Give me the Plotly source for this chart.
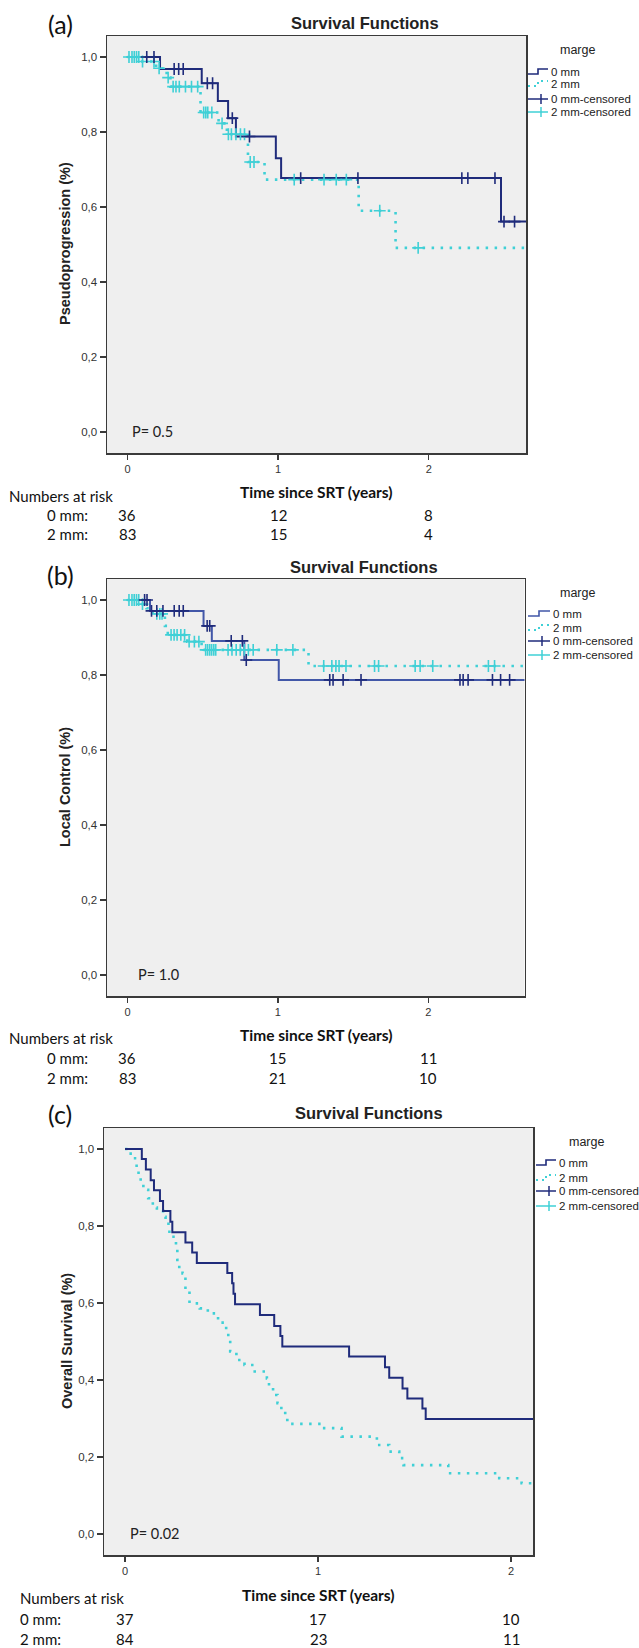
import numpy as np
import plotly.graph_objects as go

W, H = 639, 1648

# ---------------- data ----------------
# Panel (a) Pseudoprogression
a0_t = [0, 0.216, 0.493, 0.60, 0.668, 0.72, 0.985, 1.02, 2.48, 2.70]
a0_s = [1.0, 0.968, 0.930, 0.883, 0.837, 0.788, 0.730, 0.677, 0.561, 0.561]
a0_cens = [0.128, 0.176, 0.31, 0.34, 0.37, 0.53, 0.565, 0.696, 0.81, 1.15, 1.53, 2.22, 2.26, 2.44, 2.50, 2.57]
a2_t = [0, 0.087, 0.19, 0.26, 0.285, 0.485, 0.605, 0.66, 0.80, 0.91, 1.535, 1.78, 2.70]
a2_s = [1.0, 0.988, 0.970, 0.945, 0.921, 0.852, 0.823, 0.794, 0.720, 0.673, 0.590, 0.491, 0.491]
a2_cens = [0.01, 0.03, 0.045, 0.06, 0.075, 0.10, 0.176, 0.21, 0.27, 0.303, 0.322, 0.344, 0.385, 0.425,
           0.466, 0.506, 0.52, 0.533, 0.56, 0.628, 0.67, 0.69, 0.72, 0.75, 0.777, 0.815, 0.84,
           1.107, 1.305, 1.386, 1.453, 1.675, 1.93]

# Panel (b) Local control
b0_t = [0, 0.15, 0.506, 0.561, 0.777, 1.006, 2.70]
b0_s = [1.0, 0.971, 0.931, 0.891, 0.840, 0.787, 0.787]
b0_cens = [0.114, 0.13, 0.16, 0.195, 0.236, 0.311, 0.344, 0.371, 0.53, 0.547, 0.69, 0.764, 0.79,
           1.345, 1.367, 1.434, 1.553, 2.211, 2.232, 2.265, 2.427, 2.481, 2.541]
b2_t = [0, 0.088, 0.127, 0.167, 0.249, 0.268, 0.398, 0.493, 1.204, 2.70]
b2_s = [1.0, 0.989, 0.978, 0.963, 0.931, 0.907, 0.889, 0.867, 0.824, 0.824]
b2_cens = [0.01, 0.03, 0.045, 0.06, 0.075, 0.10, 0.195, 0.215, 0.23, 0.29, 0.31, 0.33, 0.355, 0.38,
           0.41, 0.445, 0.475, 0.52, 0.533, 0.547, 0.56, 0.574, 0.587, 0.669, 0.695, 0.723, 0.75,
           0.777, 0.804, 0.836, 0.993, 1.10, 1.305, 1.359, 1.386, 1.407, 1.453, 1.643, 1.670,
           1.913, 1.946, 2.030, 2.40, 2.441]

# Panel (c) Overall survival
c0_t = [0, 0.087, 0.108, 0.133, 0.150, 0.181, 0.197, 0.235, 0.245, 0.313, 0.348, 0.372, 0.530,
        0.555, 0.562, 0.570, 0.699, 0.773, 0.805, 0.815, 1.161, 1.347, 1.369, 1.438, 1.463,
        1.541, 1.558, 2.15]
c0_s = [1.0, 0.974, 0.947, 0.919, 0.893, 0.865, 0.839, 0.811, 0.784, 0.757, 0.731, 0.704, 0.678,
        0.651, 0.624, 0.597, 0.569, 0.540, 0.514, 0.487, 0.461, 0.433, 0.406, 0.378, 0.352,
        0.326, 0.299, 0.299]
c2_t = [0, 0.02, 0.045, 0.06, 0.07, 0.081, 0.095, 0.12, 0.144, 0.165, 0.197, 0.21, 0.225, 0.23,
        0.264, 0.271, 0.281, 0.298, 0.313, 0.334, 0.387, 0.429, 0.482, 0.524, 0.535, 0.545,
        0.577, 0.619, 0.672, 0.735, 0.746, 0.767, 0.79, 0.81, 0.83, 0.841, 1.02, 1.122, 1.305,
        1.369, 1.421, 1.443, 1.675, 1.939, 2.055, 2.15]
c2_s = [1.0, 0.988, 0.976, 0.95, 0.93, 0.915, 0.894, 0.872, 0.848, 0.840, 0.824, 0.812, 0.80,
        0.772, 0.742, 0.712, 0.690, 0.677, 0.634, 0.599, 0.586, 0.573, 0.549, 0.530, 0.504,
        0.474, 0.452, 0.439, 0.422, 0.404, 0.383, 0.361, 0.34, 0.322, 0.296, 0.286, 0.275,
        0.253, 0.231, 0.214, 0.197, 0.179, 0.158, 0.145, 0.132, 0.132]
c0_cens = []
c2_cens = []

# numbers at risk
risk_times = [0, 1, 2]
risk_a_0 = [36, 12, 8]
risk_a_2 = [83, 15, 4]
risk_b_0 = [36, 15, 11]
risk_b_2 = [83, 21, 10]
risk_c_0 = [37, 17, 10]
risk_c_2 = [84, 23, 11]

y_tick_vals = [0.0, 0.2, 0.4, 0.6, 0.8, 1.0]
y_tick_labels = ["0,0", "0,2", "0,4", "0,6", "0,8", "1,0"]
x_tick_vals = [0, 1, 2]
x_tick_labels = ["0", "1", "2"]
legend_labels = ["0 mm", "2 mm", "0 mm-censored", "2 mm-censored"]
panel_letters = ["(a)", "(b)", "(c)"]
y_titles = ["Pseudoprogression (%)", "Local Control (%)", "Overall Survival (%)"]
p_values = ["P= 0.5", "P= 1.0", "P= 0.02"]
x_title = "Time since SRT (years)"
chart_title = "Survival Functions"
legend_title = "marge"

# ---------------- styles ----------------
NAVY = "#1f2b7b"
BLUE_B = "#4257a8"
CYAN = "#3fd0d6"
BG = "#efefef"
AX = "#3a3a3a"
ARIAL = "Liberation Sans, Arial, sans-serif"
CALIBRI = "Lato, Open Sans, sans-serif"


def px(x):
    return x / W


def py(y):
    return 1 - y / H


panels = [
    dict(box=(107, 526, 36, 453), xr=[-0.136, 2.646], yr=[-0.056, 1.056],
         d0=(a0_t, a0_s, a0_cens), d2=(a2_t, a2_s, a2_cens), line0=NAVY,
         risk0=risk_a_0, risk2=risk_a_2,
         letter=(60, 24), title=(365, 23), ytitle=(65, 244), pval=(130, 431),
         xtitle=(316, 492), nar=(7, 496), rowlab_x=45, rows=(515, 534),
         leg_title=(577, 50), leg_rows=(72, 84, 99, 112), leg_x=(528, 548)),
    dict(box=(107, 524.5, 579, 996), xr=[-0.136, 2.64], yr=[-0.056, 1.056],
         d0=(b0_t, b0_s, b0_cens), d2=(b2_t, b2_s, b2_cens), line0=BLUE_B,
         risk0=risk_b_0, risk2=risk_b_2,
         letter=(60, 575), title=(364, 567), ytitle=(65, 787), pval=(136, 974),
         xtitle=(316, 1035), nar=(7, 1038), rowlab_x=45, rows=(1058, 1078),
         leg_title=(577, 593), leg_rows=(614, 628, 641, 655), leg_x=(528, 550)),
    dict(box=(104, 533, 1128, 1555), xr=[-0.109, 2.114], yr=[-0.0545, 1.0545],
         d0=(c0_t, c0_s, c0_cens), d2=(c2_t, c2_s, c2_cens), line0=NAVY,
         risk0=risk_c_0, risk2=risk_c_2,
         letter=(60, 1114), title=(369, 1113), ytitle=(67, 1341), pval=(128, 1533),
         xtitle=(318, 1595), nar=(18, 1598), rowlab_x=18, rows=(1619, 1639),
         leg_title=(586, 1142), leg_rows=(1163, 1178, 1191, 1206), leg_x=(536, 556)),
]

fig = go.Figure()
annotations = []
shapes = []
layout_axes = {}


def step_value(times, vals, t):
    i = np.searchsorted(np.asarray(times), t, side="right") - 1
    return vals[max(i, 0)]


for k, p in enumerate(panels):
    n = "" if k == 0 else str(k + 1)
    xa, ya = "x" + n, "y" + n
    l, r, t, b = p["box"]
    layout_axes["xaxis" + n] = dict(
        domain=[px(l), px(r)], range=p["xr"], anchor=ya,
        tickvals=x_tick_vals, ticktext=x_tick_labels, ticks="outside", ticklen=5,
        tickwidth=1.3, tickcolor=AX, showgrid=False, zeroline=False,
        showline=True, mirror=True, linecolor=AX, linewidth=1.5,
        tickfont=dict(family=ARIAL, size=11, color="#333"), fixedrange=True)
    layout_axes["yaxis" + n] = dict(
        domain=[py(b), py(t)], range=p["yr"], anchor=xa,
        tickvals=y_tick_vals, ticktext=y_tick_labels, ticks="outside", ticklen=6,
        tickwidth=1.3, tickcolor=AX, showgrid=False, zeroline=False,
        showline=True, mirror=True, linecolor=AX, linewidth=1.5,
        tickfont=dict(family=ARIAL, size=11.5, color="#333"), fixedrange=True)

    t0, s0, cen0 = p["d0"]
    t2, s2, cen2 = p["d2"]
    fig.add_trace(go.Scatter(x=t2, y=s2, mode="lines", line_shape="hv",
                             line=dict(color=CYAN, width=2.6, dash="2.5px,6.5px"),
                             xaxis=xa, yaxis=ya, name=legend_labels[1]))
    fig.add_trace(go.Scatter(x=t0, y=s0, mode="lines", line_shape="hv",
                             line=dict(color=p["line0"], width=2),
                             xaxis=xa, yaxis=ya, name=legend_labels[0]))
    if cen2:
        fig.add_trace(go.Scatter(x=cen2, y=[step_value(t2, s2, c) for c in cen2], mode="markers",
                                 marker=dict(symbol="cross-thin", size=8.5,
                                             line=dict(color=CYAN, width=1.6)),
                                 xaxis=xa, yaxis=ya, name=legend_labels[3]))
    if cen0:
        fig.add_trace(go.Scatter(x=cen0, y=[step_value(t0, s0, c) for c in cen0], mode="markers",
                                 marker=dict(symbol="cross-thin", size=8.5,
                                             line=dict(color=NAVY, width=1.6)),
                                 xaxis=xa, yaxis=ya, name=legend_labels[2]))

    # texts
    annotations.append(dict(text=panel_letters[k], x=px(p["letter"][0]), y=py(p["letter"][1]),
                            xref="paper", yref="paper", showarrow=False,
                            font=dict(family=CALIBRI, size=25, color="#111"),
                            xanchor="center", yanchor="middle"))
    annotations.append(dict(text="<b>" + chart_title + "</b>", x=px(p["title"][0]), y=py(p["title"][1]),
                            xref="paper", yref="paper", showarrow=False,
                            font=dict(family=ARIAL, size=16.5, color="#222"),
                            xanchor="center", yanchor="middle"))
    annotations.append(dict(text="<b>" + y_titles[k] + "</b>", x=px(p["ytitle"][0]), y=py(p["ytitle"][1]),
                            xref="paper", yref="paper", showarrow=False, textangle=-90,
                            font=dict(family=ARIAL, size=14.5, color="#222"),
                            xanchor="center", yanchor="middle"))
    annotations.append(dict(text=p_values[k], x=px(p["pval"][0]), y=py(p["pval"][1]),
                            xref="paper", yref="paper", showarrow=False,
                            font=dict(family=CALIBRI, size=14.5, color="#222"),
                            xanchor="left", yanchor="middle"))
    annotations.append(dict(text="<b>" + x_title + "</b>", x=px(p["xtitle"][0]), y=py(p["xtitle"][1]),
                            xref="paper", yref="paper", showarrow=False,
                            font=dict(family=CALIBRI, size=15.5, color="#111"),
                            xanchor="center", yanchor="middle"))
    annotations.append(dict(text="Numbers at risk", x=px(p["nar"][0]), y=py(p["nar"][1]),
                            xref="paper", yref="paper", showarrow=False,
                            font=dict(family=CALIBRI, size=15, color="#111"),
                            xanchor="left", yanchor="middle"))
    for lab, yrow, vals in ((legend_labels[0] + ":", p["rows"][0], p["risk0"]),
                            (legend_labels[1] + ":", p["rows"][1], p["risk2"])):
        annotations.append(dict(text=lab, x=px(p["rowlab_x"]), y=py(yrow),
                                xref="paper", yref="paper", showarrow=False,
                                font=dict(family=CALIBRI, size=15, color="#111"),
                                xanchor="left", yanchor="middle"))
        for tt, v in zip(risk_times, vals):
            annotations.append(dict(text=str(v), x=tt, y=py(yrow), xref=xa, yref="paper",
                                    showarrow=False,
                                    font=dict(family=CALIBRI, size=15, color="#111"),
                                    xanchor="center", yanchor="middle"))

    # legend (drawn)
    annotations.append(dict(text=legend_title, x=px(p["leg_title"][0]), y=py(p["leg_title"][1]),
                            xref="paper", yref="paper", showarrow=False,
                            font=dict(family=ARIAL, size=12.5, color="#222"),
                            xanchor="center", yanchor="middle"))
    x0, x1 = p["leg_x"]
    xm = (x0 + x1) / 2
    for j, (yy, lab) in enumerate(zip(p["leg_rows"], legend_labels)):
        col = p["line0"] if j == 0 else (NAVY if j == 2 else CYAN)
        if j in (0, 1):
            path = "M {a},{b} L {c},{b} L {c},{d} L {e},{d}".format(
                a=px(x0), b=py(yy + 2), c=px(xm), d=py(yy - 3), e=px(x1))
            shapes.append(dict(type="path", path=path, xref="paper", yref="paper",
                               line=dict(color=col, width=1.6 if j == 0 else 2,
                                         dash="solid" if j == 0 else "2px,4px")))
        else:
            shapes.append(dict(type="line", x0=px(x0), x1=px(x1), y0=py(yy), y1=py(yy),
                               xref="paper", yref="paper", line=dict(color=col, width=1.5)))
            shapes.append(dict(type="line", x0=px(xm + 3), x1=px(xm + 3), y0=py(yy - 5), y1=py(yy + 5),
                               xref="paper", yref="paper", line=dict(color=col, width=1.5)))
        annotations.append(dict(text=lab, x=px(x1 + 1), y=py(yy), xref="paper", yref="paper",
                                showarrow=False, font=dict(family=ARIAL, size=11.5, color="#222"),
                                xanchor="left", yanchor="middle"))

fig.update_layout(
    width=W, height=H, margin=dict(l=0, r=0, t=0, b=0, pad=0),
    paper_bgcolor="white", plot_bgcolor=BG, showlegend=False,
    annotations=annotations, shapes=shapes, **layout_axes)

fig.write_html("out.html", config={"displayModeBar": False, "staticPlot": True},
               post_script="document.body.style.margin='0';")
